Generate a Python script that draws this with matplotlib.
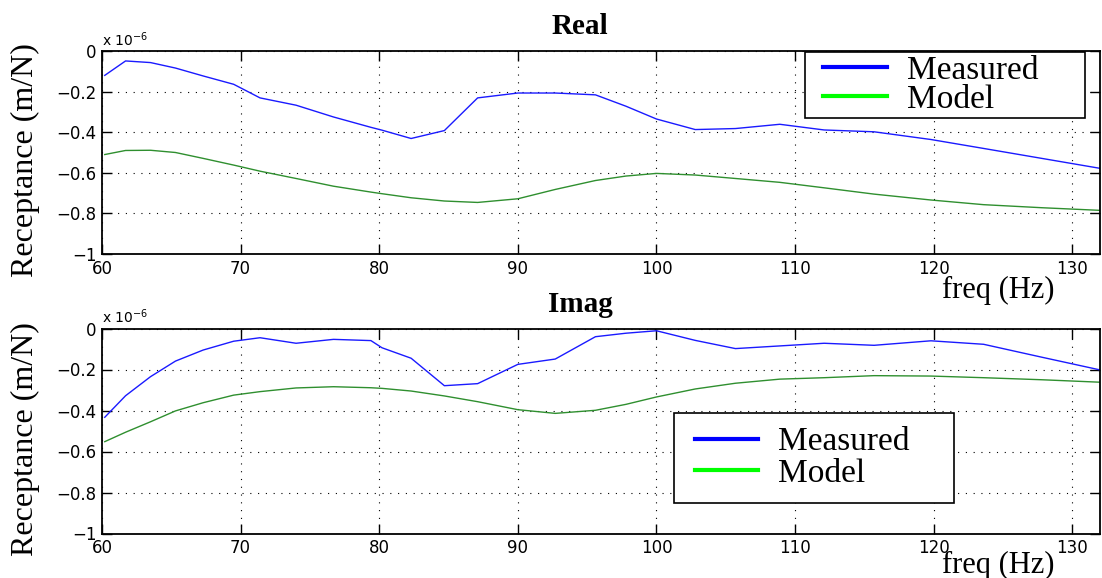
import matplotlib
matplotlib.use('Agg')
from matplotlib import pyplot as plt
from matplotlib.legend_handler import HandlerLine2D
import numpy as np

# frequency points (Hz) and receptance values (x 1e-6 m/N)
freq = [60.2, 61.7, 63.5, 65.3, 67.3, 69.5, 71.4, 74.0, 76.7, 79.4, 80.2, 82.3, 84.7, 87.1,
        90.0, 92.7, 95.6, 97.8, 100.0, 102.8, 105.7, 108.9, 112.1, 115.7, 119.8, 123.6,
        127.8, 132.0]

real_meas = [-0.120, -0.049, -0.057, -0.084, -0.123, -0.164, -0.231, -0.267, -0.325, -0.376,
             -0.390, -0.431, -0.392, -0.231, -0.207, -0.207, -0.216, -0.272, -0.335, -0.387,
             -0.382, -0.361, -0.389, -0.398, -0.436, -0.480, -0.529, -0.578]
real_model = [-0.510, -0.490, -0.489, -0.500, -0.529, -0.562, -0.592, -0.628, -0.666, -0.695,
              -0.703, -0.723, -0.739, -0.746, -0.728, -0.682, -0.638, -0.616, -0.603, -0.611,
              -0.628, -0.647, -0.674, -0.705, -0.734, -0.757, -0.772, -0.785]

imag_meas = [-0.433, -0.328, -0.235, -0.159, -0.105, -0.062, -0.045, -0.072, -0.053, -0.059,
             -0.094, -0.145, -0.279, -0.269, -0.175, -0.149, -0.040, -0.023, -0.011, -0.058,
             -0.098, -0.085, -0.072, -0.082, -0.060, -0.077, -0.140, -0.202]
imag_model = [-0.552, -0.506, -0.455, -0.402, -0.362, -0.325, -0.308, -0.290, -0.284, -0.289,
              -0.292, -0.305, -0.329, -0.357, -0.396, -0.414, -0.399, -0.370, -0.334, -0.295,
              -0.267, -0.247, -0.240, -0.230, -0.232, -0.240, -0.250, -0.262]

series_names = ['Measured', 'Model']
xticks = [60, 70, 80, 90, 100, 110, 120, 130]
yticks = [0, -0.2, -0.4, -0.6, -0.8, -1]
ytick_labels = ['0', '\u22120.2', '\u22120.4', '\u22120.6', '\u22120.8', '\u22121']

serif = 'Liberation Serif'
line_blue = '#1a1aff'
line_green = '#2f8f2f'

fig = plt.figure(figsize=(11.02, 5.78), dpi=100)


def panel(rect, title, meas, model, leg_box, leg_pad, leg_space, lead, xlab_y):
    ax = fig.add_axes(rect)
    l1, = ax.plot(freq, meas, color=line_blue, lw=1.0, label=series_names[0])
    l2, = ax.plot(freq, model, color=line_green, lw=1.0, label=series_names[1])
    ax.set_xlim(60, 132)
    ax.set_ylim(-1, 0)
    ax.set_xticks(xticks)
    ax.set_yticks(yticks)
    ax.set_yticklabels(ytick_labels)
    ax.tick_params(direction='in', top=True, right=True, length=7, width=1,
                   labelsize=12, pad=4)
    for s in ax.spines.values():
        s.set_linewidth(1.3)
    ax.grid(True, color='black', linestyle=(0, (1, 6)), linewidth=0.8)

    ax.set_title(title, fontsize=21, fontweight='bold', family=serif, x=0.479, pad=12)
    ax.set_ylabel('Receptance (m/N)', fontsize=23, family=serif)
    ax.yaxis.set_label_coords(-0.062, 0.463)
    ax.set_xlabel('freq (Hz)', fontsize=22, family=serif)
    ax.xaxis.set_label_coords(0.898, xlab_y)
    ax.text(0.0, 1.012, 'x 10$^{-6}$', transform=ax.transAxes, fontsize=10,
            ha='left', va='bottom')

    # expand mode leaves the spare width on the right, like the original legend boxes;
    # xpad pushes the handle lines in from the left edge
    hmap = {l1: HandlerLine2D(xpad=lead), l2: HandlerLine2D(xpad=lead)}
    leg = ax.legend(loc='upper left', bbox_to_anchor=leg_box, mode='expand',
                    borderaxespad=0, prop={'family': serif, 'size': 24},
                    fancybox=False, edgecolor='black', framealpha=1,
                    labelspacing=leg_space, handlelength=1.9 + lead, handletextpad=0.6,
                    borderpad=leg_pad, handler_map=hmap)
    leg.get_frame().set_linewidth(1.2)
    hl = leg.get_lines()
    hl[0].set_color('#0000ff')
    hl[1].set_color('#00ff00')
    for h in hl:
        h.set_linewidth(3)
    return ax


panel([102 / 1102, 1 - 254 / 578, 998 / 1102, 203 / 578], 'Real', real_meas, real_model,
      (0.7044, 0.5, 0.2806, 0.495), 0.1, -0.05, 0.45, -0.108)
panel([102 / 1102, 1 - 533.5 / 578, 998 / 1102, 205 / 578], 'Imag', imag_meas, imag_model,
      (0.573, 0.1, 0.2806, 0.488), 0.42, 0.03, 0.2, -0.083)

fig.savefig('out.png', dpi=100)
